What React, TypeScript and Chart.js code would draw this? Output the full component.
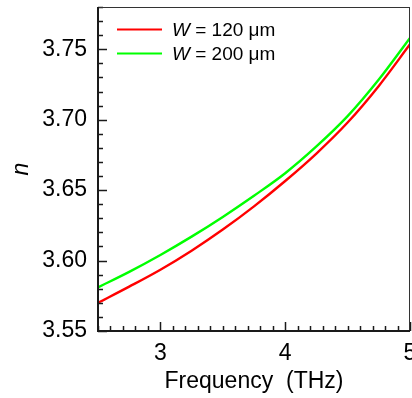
import React, { useEffect, useRef } from "react";
import { Chart, registerables } from "chart.js";

Chart.register(...registerables);

// Data
const frequencyTHz = [2.5, 2.75, 3.0, 3.25, 3.5, 3.75, 4.0, 4.25, 4.5, 4.75, 5.0];
const nW120 = [3.570, 3.5815, 3.5935, 3.607, 3.622, 3.6385, 3.6565, 3.676, 3.698, 3.724, 3.7535];
const nW200 = [3.581, 3.592, 3.604, 3.617, 3.631, 3.646, 3.662, 3.681, 3.7025, 3.7285, 3.758];
const xTickValues = [3, 4, 5];
const yTickValues = [3.55, 3.6, 3.65, 3.7, 3.75];
const seriesNames = ["120 μm", "200 μm"];
const seriesColors = ["#ff0000", "#00ff00"];

const FONT = "'Liberation Sans', Arial, Helvetica, sans-serif";

const framePlugin = {
  id: "frame",
  afterDatasetsDraw(chart: any) {
    const { ctx, chartArea, scales } = chart;
    const { left, right, top, bottom } = chartArea;
    const x = scales.x;
    const y = scales.y;
    ctx.save();
    ctx.strokeStyle = "#1a1a1a";
    ctx.lineWidth = 1.5;
    // x ticks (inward)
    for (let i = 0; i <= 25; i++) {
      const v = 2.5 + i * 0.1;
      const major = Math.abs(v - Math.round(v)) < 1e-6;
      const px = Math.round(x.getPixelForValue(v)) + 0.5;
      ctx.beginPath();
      ctx.moveTo(px, bottom);
      ctx.lineTo(px, bottom - (major ? 9 : 5));
      ctx.stroke();
    }
    // y ticks (inward)
    for (let i = 0; i <= 23; i++) {
      const v = 3.55 + i * 0.01;
      const major = Math.abs(v * 20 - Math.round(v * 20)) < 1e-6;
      const py = Math.round(y.getPixelForValue(v)) + 0.5;
      ctx.beginPath();
      ctx.moveTo(left, py);
      ctx.lineTo(left + (major ? 9 : 5), py);
      ctx.stroke();
    }
    // frame
    ctx.lineWidth = 1;
    ctx.strokeStyle = "#333";
    ctx.beginPath();
    ctx.moveTo(left, top + 0.5);
    ctx.lineTo(right, top + 0.5);
    ctx.moveTo(right - 0.5, top);
    ctx.lineTo(right - 0.5, bottom);
    ctx.stroke();
    ctx.lineWidth = 2;
    ctx.strokeStyle = "#1a1a1a";
    ctx.beginPath();
    ctx.moveTo(left, top);
    ctx.lineTo(left, bottom);
    ctx.lineTo(right, bottom);
    ctx.stroke();

    // legend
    const lineX0 = left + 19;
    const lineX1 = left + 64;
    const textX = left + 74;
    seriesNames.forEach((name, i) => {
      const cy = top + 22.5 + i * 24;
      ctx.strokeStyle = seriesColors[i];
      ctx.lineWidth = 2;
      ctx.beginPath();
      ctx.moveTo(lineX0, cy);
      ctx.lineTo(lineX1, cy);
      ctx.stroke();
      ctx.fillStyle = "#000";
      ctx.textBaseline = "alphabetic";
      ctx.textAlign = "left";
      ctx.font = `italic 19px ${FONT}`;
      const baseY = cy + 6.8;
      ctx.fillText("W", textX, baseY);
      const w = ctx.measureText("W").width;
      ctx.font = `19px ${FONT}`;
      ctx.fillText(" = " + name, textX + w, baseY);
    });
    ctx.restore();
  },
};

export default function App() {
  const canvasRef = useRef<HTMLCanvasElement | null>(null);

  useEffect(() => {
    document.body.style.margin = "0";
    const canvas = canvasRef.current;
    if (!canvas) return;
    const chart = new Chart(canvas, {
      type: "line",
      data: {
        datasets: [
          {
            label: "W = " + seriesNames[0],
            data: frequencyTHz.map((f, i) => ({ x: f, y: nW120[i] })),
            borderColor: seriesColors[0],
            borderWidth: 2.4,
            pointRadius: 0,
            cubicInterpolationMode: "monotone",
            fill: false,
          },
          {
            label: "W = " + seriesNames[1],
            data: frequencyTHz.map((f, i) => ({ x: f, y: nW200[i] })),
            borderColor: seriesColors[1],
            borderWidth: 2.4,
            pointRadius: 0,
            cubicInterpolationMode: "monotone",
            fill: false,
          },
        ],
      },
      options: {
        responsive: false,
        animation: false,
        devicePixelRatio: 1,
        layout: { padding: { top: 7, right: 2, left: 0, bottom: 0 } },
        plugins: {
          legend: { display: false },
          tooltip: { enabled: false },
        },
        scales: {
          x: {
            type: "linear",
            min: 2.5,
            max: 5,
            grid: { display: false, drawTicks: false },
            border: { display: false },
            afterBuildTicks: (s: any) => {
              s.ticks = xTickValues.map((v) => ({ value: v }));
            },
            afterFit: (s: any) => {
              s.height = 67;
              s.paddingLeft = 0;
              s.paddingRight = 0;
              s.paddingTop = 0;
              s.paddingBottom = 0;
            },
            ticks: {
              color: "#000",
              font: { family: FONT, size: 23 },
              padding: 9,
              maxRotation: 0,
              autoSkip: false,
              callback: (v: any) => String(v),
            },
            title: {
              display: true,
              text: "Frequency  (THz)",
              color: "#000",
              font: { family: FONT, size: 23 },
              padding: { top: 0, bottom: 3 },
            },
          },
          y: {
            type: "linear",
            min: 3.55,
            max: 3.78,
            grid: { display: false, drawTicks: false },
            border: { display: false },
            afterBuildTicks: (s: any) => {
              s.ticks = yTickValues.map((v) => ({ value: v }));
            },
            afterFit: (s: any) => {
              s.width = 98;
              s.paddingLeft = 0;
              s.paddingRight = 0;
              s.paddingTop = 0;
              s.paddingBottom = 0;
            },
            ticks: {
              color: "#000",
              font: { family: FONT, size: 23 },
              padding: 11,
              autoSkip: false,
              callback: (v: any) => Number(v).toFixed(2),
            },
            title: {
              display: true,
              text: "n",
              color: "#000",
              font: { family: FONT, size: 23, style: "italic" },
              padding: { top: 8, bottom: 0 },
            },
          },
        },
      },
      plugins: [framePlugin],
    });
    return () => chart.destroy();
  }, []);

  return (
    <div style={{ position: "absolute", left: 0, top: 0, width: 412, height: 398, background: "#fff" }}>
      <canvas ref={canvasRef} width={412} height={398} />
    </div>
  );
}
